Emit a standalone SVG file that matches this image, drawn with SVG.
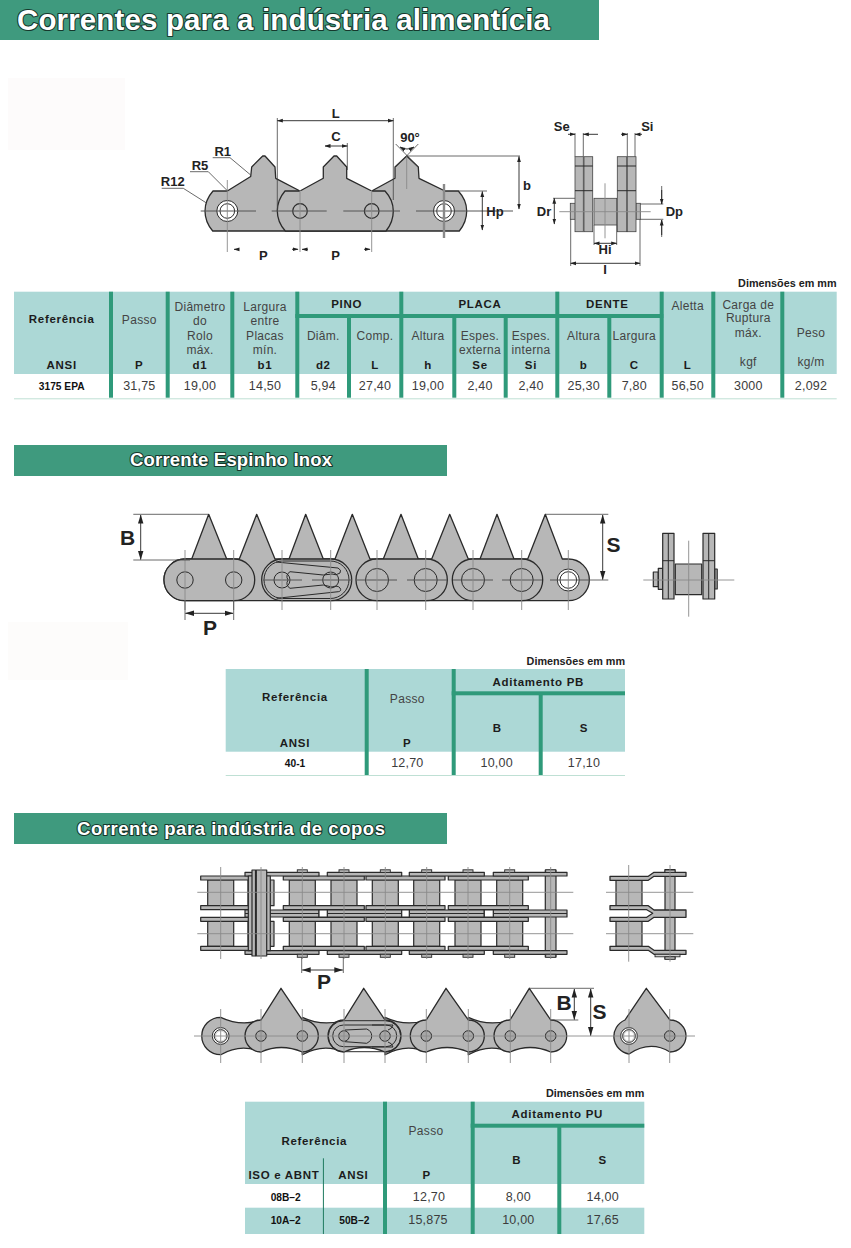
<svg xmlns="http://www.w3.org/2000/svg" xmlns:xlink="http://www.w3.org/1999/xlink" width="851" height="1248" viewBox="0 0 851 1248">
<style>
text{font-family:"Liberation Sans",Arial,sans-serif}
.ban{fill:#3f9a7e}
.bt{fill:#fff;font-weight:bold;stroke:#16382c;stroke-width:2.2;paint-order:stroke;stroke-linejoin:round}
.hd{fill:#acd8d6}
.bar{fill:#2f9a7a}
.rl{fill:#bfe0d4}
.r{font-size:12px;letter-spacing:.3px;fill:#444;text-anchor:middle}
.v{font-size:12.5px;letter-spacing:.2px;fill:#3c3c3c;text-anchor:middle}
.b{font-size:11.5px;letter-spacing:.7px;font-weight:bold;fill:#1c1c1c;text-anchor:middle}
.c{font-size:10.2px;font-weight:bold;fill:#111;text-anchor:middle}
.d{font-size:10.8px;font-weight:bold;fill:#222;text-anchor:end}
.l{font-size:13px;font-weight:bold;fill:#222;text-anchor:middle}
.L{font-size:21px;font-weight:bold;fill:#222;text-anchor:middle}
.p{fill:#b7b7b7;stroke:#2a2a2a;stroke-width:1.2;stroke-linejoin:round}
.p1{fill:#b7b7b7;stroke:#444;stroke-width:.8}
.p2{fill:#b7b7b7;stroke:#2a2a2a;stroke-width:.9}
.t{fill:#b7b7b7;stroke:#2a2a2a;stroke-width:1.3;stroke-linejoin:round}
.nf{fill:none;stroke:#2a2a2a;stroke-width:1}
.w{fill:#fff;stroke:#2a2a2a;stroke-width:1}
.cl{fill:none;stroke:#8a8a8a;stroke-width:.9}
.cd{fill:none;stroke:#555;stroke-width:1}
.dm{fill:none;stroke:#444;stroke-width:.8}
.ar{fill:none;stroke:#222;stroke-width:.9;marker-start:url(#a);marker-end:url(#a)}
.ae{fill:none;stroke:#222;stroke-width:.9;marker-end:url(#a)}
.ar2{fill:none;stroke:#222;stroke-width:.9;marker-start:url(#a2);marker-end:url(#a2)}
.hole{fill:#a8a8a8;stroke:#2a2a2a;stroke-width:1}
</style>
<defs>
<marker id="a" markerUnits="userSpaceOnUse" markerWidth="6" markerHeight="5" refX="5.5" refY="2.5" orient="auto-start-reverse"><path d="M0 .6L6 2.5L0 4.4z" fill="#222"/></marker>
<marker id="a2" markerUnits="userSpaceOnUse" markerWidth="9" markerHeight="6" refX="8.5" refY="3" orient="auto-start-reverse"><path d="M0 .3L9 3L0 5.7z" fill="#222"/></marker>
<g id="ir"><rect class="p" x="200.7" y="0" width="52.6" height="4"/><rect class="p" x="283.3" y="0" width="81" height="4"/><rect class="p" x="366" y="0" width="79" height="4"/><rect class="p" x="448.3" y="0" width="80" height="4"/></g>
<g id="rol"><rect class="p" x="-13" y="880" width="26" height="25.7"/><rect class="p" x="-13" y="921.3" width="26" height="25"/></g>
<g id="pl"><path class="cl" d="M0 867V959"/></g>
<g id="riv"><rect class="p2" x="-5" y="869.8" width="10" height="2.6"/><rect class="p2" x="-5" y="954.3" width="10" height="3"/></g>
<g id="sp"><circle class="hole" r="5.3"/></g>
</defs>
<rect width="851" height="1248" fill="#fff"/>

<g id="banner-main"><rect class="ban" x="0" y="0" width="599" height="40"/><text class="bt" x="17" y="30" font-size="29.5" textLength="533" lengthAdjust="spacing">Correntes para a indústria alimentícia</text></g>
<rect x="8" y="78" width="117" height="72" fill="#fdfbfb"/>
<rect x="8" y="622" width="120" height="58" fill="#fdfcfb"/>

<g id="chain-a-front">
<path class="t" d="M213 191H227.3L250.7 176.5L251.7 167L262.7 156H265L275 167L275.7 178.3L300 191L323.3 178.3V167L334 156H336.7L346.7 167V178.3L371.7 191L395 178.3V167L406.7 156L418.3 167L419 178.3L445 191H458.3Q466.7 200 466.7 211Q466.7 222 459.3 231H212.7Q205 222 205 211Q205 200 213 191Z"/>
<path class="t" d="M300 191H285Q277.3 200 277.3 211Q277.3 222 285.3 231H386Q393.3 222 393.3 211Q393.3 200 385 191H371.7"/>
<circle class="w" cx="227.3" cy="211" r="10.5"/><circle class="w" cx="227.3" cy="211" r="7.3"/>
<circle class="w" cx="444" cy="211" r="10.5"/><circle class="w" cx="444" cy="211" r="7.3"/>
<circle class="p" cx="300" cy="211" r="7.3"/><circle class="p" cx="371.7" cy="211" r="7.3"/>
<path class="cd" d="M200.7 211H256M271.7 211H326.7M343.3 211H400M416 211H513"/>
<path class="cl" d="M227.3 180V252M300 190V252M371.7 190V252M406.7 156V189"/>
<path fill="none" stroke="#8a8a8a" stroke-width="2.4" d="M444 184V238"/>
</g>
<g id="chain-a-dims">
<path class="dm" d="M277.3 118V211M393.3 118V200M347.3 143V170M406.7 156H520M458 191H487M395.7 144L418.3 167M418.3 144L395.7 167"/>
<path class="ar" d="M277.3 120.7H393.3"/>
<path class="ar" d="M325 146H347.3"/>
<path class="ar" d="M519 156.5V209"/>
<path class="ar" d="M482.3 191.5V230"/>
<path class="ar" d="M400 147Q407 151 414 147"/>
<path class="dm" d="M212.7 157.7H230L250.7 175M190 171.7H208.3L227.3 190.7M161.7 188.3H183.3L206 202.7"/>
<path class="ae" d="M238 249.3H234"/><path class="ae" d="M292 249.3H298"/><path class="ae" d="M308 249.3H302"/><path class="ae" d="M364 249.3H370"/>
<text class="l" x="335.7" y="117.5">L</text><text class="l" x="336" y="141">C</text><text class="l" x="410" y="141.7">90°</text>
<text class="l" x="222.7" y="156">R1</text><text class="l" x="200" y="170">R5</text><text class="l" x="172.7" y="186">R12</text>
<text class="l" x="263.3" y="260">P</text><text class="l" x="335.7" y="260">P</text><text class="l" x="527" y="190">b</text><text class="l" x="495" y="216">Hp</text>
</g>
<g id="chain-a-side">
<rect class="p1" x="570.3" y="203.3" width="5" height="16"/><rect class="p1" x="636" y="203.3" width="4.3" height="16"/>
<rect class="p1" x="594" y="198.3" width="22.7" height="26.7"/>
<rect class="p1" x="575" y="156.7" width="8.3" height="75"/><rect class="p1" x="584" y="156.7" width="8.7" height="75"/>
<rect class="p1" x="617.3" y="156.7" width="9.4" height="75"/><rect class="p1" x="627.3" y="156.7" width="8.7" height="75"/>
<path class="nf" d="M575 166H592.7M575 190.7H592.7M617.3 166H636M617.3 190.7H636"/>
<path class="cl" d="M605 183.3V238.3M559.3 211.7H650.7"/>
<path class="dm" d="M575 133V156.7M583.3 133V156.7M627.3 133V156.7M635 133V156.7M553 198.3H575M640 204H663.3M640 219.3H663.3M594 225V245M616.7 225V245M570.7 219V266M640 219V266M661.7 186V204M661.7 220V237"/>
<path class="ae" d="M568 134.3H575"/><path class="ae" d="M598 134.3H583.3"/><path class="ae" d="M621 134.3H627.3"/><path class="ae" d="M642 134.3H635"/>
<path class="ae" d="M661.7 190V204"/><path class="ae" d="M661.7 235V220"/>
<path class="ar" d="M554.3 198.3V224"/><path class="ar" d="M594 243.3H616.7"/><path class="ar" d="M570.7 263.3H640"/>
<text class="l" x="561.7" y="131">Se</text><text class="l" x="647.3" y="131">Si</text><text class="l" x="544" y="216">Dr</text><text class="l" x="674.3" y="216">Dp</text><text class="l" x="605" y="254.3">Hi</text><text class="l" x="605" y="274.3">I</text>
</g>

<g id="table-a">
<text class="d" x="836.5" y="286.7">Dimensões em mm</text>
<rect class="hd" x="14" y="291.7" width="822.7" height="82.3"/>
<rect class="rl" x="14" y="398.3" width="822.7" height="1"/>
<g class="bar"><rect x="109" y="291.7" width="4" height="106"/><rect x="165.7" y="291.7" width="4" height="106"/><rect x="230.3" y="291.7" width="4" height="106"/><rect x="295.3" y="291.7" width="4" height="106"/><rect x="347" y="315.7" width="4" height="82"/><rect x="399.3" y="291.7" width="4" height="106"/><rect x="452.3" y="315.7" width="4" height="82"/><rect x="503.7" y="315.7" width="4" height="82"/><rect x="555.3" y="291.7" width="4" height="106"/><rect x="607.3" y="315.7" width="4" height="82"/><rect x="659.7" y="291.7" width="4" height="106"/><rect x="711.3" y="291.7" width="4" height="106"/><rect x="780.3" y="291.7" width="4" height="106"/><rect x="295.3" y="314" width="368" height="4"/></g>
<text class="b" x="61.7" y="322.7">Referência</text><text class="b" x="61.7" y="369">ANSI</text>
<text class="r" x="139.3" y="324">Passo</text><text class="b" x="139.3" y="369">P</text>
<text class="r" x="200" y="310.7">Diâmetro</text><text class="r" x="200" y="325">do</text><text class="r" x="200" y="340">Rolo</text><text class="r" x="200" y="354">máx.</text><text class="b" x="200" y="369">d1</text>
<text class="r" x="265" y="310.7">Largura</text><text class="r" x="265" y="325">entre</text><text class="r" x="265" y="340">Placas</text><text class="r" x="265" y="354">mín.</text><text class="b" x="265" y="369">b1</text>
<text class="b" x="346.7" y="307.7">PINO</text><text class="b" x="480" y="307.7">PLACA</text><text class="b" x="607.3" y="307.7">DENTE</text>
<text class="r" x="323.3" y="340">Diâm.</text><text class="b" x="323.3" y="369">d2</text>
<text class="r" x="375" y="340">Comp.</text><text class="b" x="375" y="369">L</text>
<text class="r" x="428" y="340">Altura</text><text class="b" x="428" y="369">h</text>
<text class="r" x="480" y="340">Espes.</text><text class="r" x="480" y="354">externa</text><text class="b" x="480" y="369">Se</text>
<text class="r" x="531" y="340">Espes.</text><text class="r" x="531" y="354">interna</text><text class="b" x="531" y="369">Si</text>
<text class="r" x="583.7" y="340">Altura</text><text class="b" x="583.7" y="369">b</text>
<text class="r" x="634.3" y="340">Largura</text><text class="b" x="634.3" y="369">C</text>
<text class="r" x="687.7" y="310">Aletta</text><text class="b" x="687.7" y="369">L</text>
<text class="r" x="748.3" y="309">Carga de</text><text class="r" x="748.3" y="322.3">Ruptura</text><text class="r" x="748.3" y="336.7">máx.</text><text class="r" x="748.3" y="365.7">kgf</text>
<text class="r" x="811" y="337.3">Peso</text><text class="r" x="811" y="365.7">kg/m</text>
<text class="c" x="61.7" y="390">3175 EPA</text>
<text class="v" x="139.3" y="390">31,75</text><text class="v" x="200" y="390">19,00</text><text class="v" x="265" y="390">14,50</text><text class="v" x="323.3" y="390">5,94</text><text class="v" x="375" y="390">27,40</text><text class="v" x="428" y="390">19,00</text><text class="v" x="480" y="390">2,40</text><text class="v" x="531" y="390">2,40</text><text class="v" x="583.7" y="390">25,30</text><text class="v" x="634.3" y="390">7,80</text><text class="v" x="687.7" y="390">56,50</text><text class="v" x="748.3" y="390">3000</text><text class="v" x="811" y="390">2,092</text>
</g>

<g id="banner-espinho"><rect class="ban" x="14" y="445" width="433" height="31"/><text class="bt" x="130" y="466" font-size="18.5" textLength="202" lengthAdjust="spacing" stroke-width="1.6">Corrente Espinho Inox</text></g>

<g id="chain-b-front">
<path class="t" d="M185 559H191.7L208.7 514.3L226.7 559H239.3L256.7 514.3L275 559H289L305.7 514.3L323.3 559H335L352.3 514.3L370 559H383.3L401 514.3L418.3 559H431.7L449.7 514.3L468.3 559H480L497 514.3L514 559H527.7L545.3 514.3L562.3 559H568.3A21 20.8 0 0 1 568.3 600.7H185A21 20.8 0 0 1 185 559Z"/>
<rect class="t" x="164" y="559" width="90.7" height="41.7" rx="20.8"/>
<rect class="t" x="261.7" y="559" width="90" height="41.7" rx="20.8"/>
<rect class="t" x="356" y="559" width="91.3" height="41.7" rx="20.8"/>
<rect class="t" x="452.3" y="559" width="90.4" height="41.7" rx="20.8"/>
<rect class="nf" x="264" y="561" width="85" height="37.5" rx="18.7"/>
<path class="nf" d="M276 562L338 568Q342 570 340 573Q336 576 332 574L323.3 575L290 571.7Q285 575 288 580Q285 585 290 588.3L323.3 585L332 587Q338 585 340 588Q342 591 338.3 591.7L276.7 598.3"/>
<g class="nf"><circle cx="185" cy="580" r="8.2"/><circle cx="233.7" cy="580" r="8.2"/><circle cx="282" cy="580" r="8"/><circle cx="330.7" cy="580" r="8"/><circle cx="377" cy="580" r="11.5"/><circle cx="425.7" cy="580" r="11.5"/><circle cx="473" cy="580" r="11.5"/><circle cx="521.7" cy="580" r="11.5"/></g>
<circle class="w" cx="568.3" cy="580" r="11"/><circle class="w" cx="568.3" cy="580" r="8.3"/>
<path class="cd" d="M263 580H302M312 580H352M357 580H397M407 580H447M453 580H493M502 580H542M550 580H590"/>
<path class="cl" d="M185 550V610M233.7 550V610M282 550V610M330.7 550V610M377 550V610M425.7 550V610M473 550V610M521.7 550V610M568.3 550V610"/>
</g>
<g id="chain-b-dims">
<path class="dm" d="M133.3 514.3H208M133.3 560H190M545.3 514.3H608.3M590 580H608.3M185 600V620M233.7 600V620"/>
<path class="ar2" d="M140.7 515V559.5"/><path class="ar2" d="M602.7 515V579.5"/><path class="ar2" d="M185.5 613.3H233"/>
<text class="L" x="127.5" y="545">B</text><text class="L" x="613.5" y="552">S</text><text class="L" x="210" y="634.5">P</text>
</g>
<g id="chain-b-side">
<rect class="p" x="653.3" y="572" width="5" height="14.7"/><rect class="p" x="658.3" y="568.3" width="4.4" height="21"/><rect class="p" x="714.7" y="569" width="2.5" height="20"/>
<rect class="p" x="675.3" y="564" width="26.4" height="30.7"/>
<rect class="p" x="662.7" y="533.3" width="11.3" height="65.7"/><rect class="p" x="703" y="533.3" width="11.7" height="65.7"/>
<path class="nf" d="M668.3 533.3V599M708.7 533.3V599M662.7 560.7H674M703 560.7H714.7"/>
<path class="cl" d="M643.3 580H734.3M688.7 540.7V616.7"/>
</g>

<g id="table-b">
<text class="d" x="625" y="665">Dimensões em mm</text>
<rect class="hd" x="225.7" y="669" width="399.3" height="82.7"/>
<rect class="rl" x="225.7" y="775" width="399.3" height="1"/>
<g class="bar"><rect x="364.7" y="669" width="4" height="106"/><rect x="451.7" y="669" width="4" height="106"/><rect x="538.7" y="693.3" width="4" height="81.7"/><rect x="451.7" y="691.3" width="173.3" height="4"/></g>
<text class="b" x="295" y="700.7">Referência</text><text class="b" x="295" y="747.3">ANSI</text><text class="r" x="407.3" y="702.7">Passo</text><text class="b" x="407.3" y="747.3">P</text><text class="b" x="538.3" y="686">Aditamento  PB</text><text class="b" x="497.3" y="731.7">B</text><text class="b" x="584" y="731.7">S</text>
<text class="c" x="295" y="767.3">40-1</text><text class="v" x="407.3" y="767.3">12,70</text><text class="v" x="496.7" y="767.3">10,00</text><text class="v" x="584" y="767.3">17,10</text>
</g>

<g id="banner-copos"><rect class="ban" x="14" y="813" width="433" height="31"/><text class="bt" x="77" y="835" font-size="18.5" textLength="308" lengthAdjust="spacing" stroke-width="1.6">Corrente para indústria de copos</text></g>

<g id="chain-c-top">
<use xlink:href="#rol" href="#rol" x="220.7"/><use href="#rol" xlink:href="#rol" x="261"/><use href="#rol" xlink:href="#rol" x="302.3"/><use href="#rol" xlink:href="#rol" x="344"/><use href="#rol" xlink:href="#rol" x="385.3"/><use href="#rol" xlink:href="#rol" x="426.7"/><use href="#rol" xlink:href="#rol" x="468"/><use href="#rol" xlink:href="#rol" x="509.7"/>
<rect class="p" x="545.3" y="870" width="10.7" height="87"/>
<use href="#ir" xlink:href="#ir" y="876"/><use href="#ir" xlink:href="#ir" y="905.7"/><use href="#ir" xlink:href="#ir" y="917.3"/><use href="#ir" xlink:href="#ir" y="946.3"/>
<g class="p"><rect x="245" y="872.3" width="74" height="3.7"/><rect x="327.3" y="872.3" width="74.4" height="3.7"/><rect x="409.3" y="872.3" width="75" height="3.7"/><rect x="493.3" y="872.3" width="73.7" height="3.7"/>
<rect x="245" y="910" width="74" height="7"/><rect x="327.3" y="910" width="74.4" height="7"/><rect x="409.3" y="910" width="75" height="7"/><rect x="493.3" y="910" width="73.7" height="7"/>
<rect x="245" y="950.7" width="74" height="3.6"/><rect x="327.3" y="950.7" width="74.4" height="3.6"/><rect x="409.3" y="950.7" width="75" height="3.6"/><rect x="493.3" y="950.7" width="73.7" height="3.6"/></g>
<path class="nf" d="M245 913.5H319M327.3 913.5H401.7M409.3 913.5H484.3M493.3 913.5H567"/>
<rect class="p" x="319" y="910" width="8.3" height="7" style="fill:#fff"/><rect class="p" x="401.7" y="910" width="7.6" height="7" style="fill:#fff"/><rect class="p" x="484.3" y="910" width="9" height="7" style="fill:#fff"/>
<rect class="p" x="248.3" y="876" width="22" height="74.7"/>
<rect class="p" x="252" y="870" width="3.5" height="86"/>
<rect class="p" x="256.3" y="870" width="10.4" height="86"/>
<use href="#riv" xlink:href="#riv" x="302.3"/><use href="#riv" xlink:href="#riv" x="344"/><use href="#riv" xlink:href="#riv" x="385.3"/><use href="#riv" xlink:href="#riv" x="426.7"/><use href="#riv" xlink:href="#riv" x="468"/><use href="#riv" xlink:href="#riv" x="509.7"/><use href="#riv" xlink:href="#riv" x="550.7"/>
<path class="cl" d="M197.3 892.3H573.3M197.3 933.7H573.3"/>
<use href="#pl" xlink:href="#pl" x="220.7"/><use href="#pl" xlink:href="#pl" x="261"/><use href="#pl" xlink:href="#pl" x="302.3"/><use href="#pl" xlink:href="#pl" x="344"/><use href="#pl" xlink:href="#pl" x="385.3"/><use href="#pl" xlink:href="#pl" x="426.7"/><use href="#pl" xlink:href="#pl" x="468"/><use href="#pl" xlink:href="#pl" x="509.7"/><use href="#pl" xlink:href="#pl" x="550.7"/>
<path class="dm" d="M301.7 957V973M343.3 957V973"/><path class="ar2" d="M302.2 970H342.8"/>
<text class="L" x="324" y="989">P</text>
</g>
<g id="chain-c-top-side">
<rect class="p" x="616" y="880" width="26" height="25.7"/><rect class="p" x="616" y="921.3" width="26" height="25"/>
<rect class="p" x="665" y="869.5" width="10" height="89.5"/>
<path class="t" d="M610 876.3H648.3L654 872.3H686V876.3H654L648.3 880.3H610Z"/>
<path class="t" d="M610 905.7H648.3L654 910H686V917.3H654L648.3 921.3H610V917.3H646.7L652.7 913.3L646.7 909.7H610Z"/>
<path class="t" d="M610 946.3H648.3L654 950.3H686V954.3H654L648.3 950.3H610Z"/>
<rect class="p2" x="655" y="954.3" width="25" height="2.5" style="fill:#d0d0d0"/>
<rect class="p2" x="665" y="870" width="10" height="2.4"/><rect class="p2" x="665" y="956.8" width="10" height="2.5"/>
<path class="cl" d="M606 892.3H693.3M606 933.7H693.3M628.7 865V961.7M670 865V961.7"/>
</g>
<g id="chain-c-front">
<path class="t" d="M220.7 1017.3Q241 1027 261 1020V1052Q241 1043 220.7 1054.7A19 18.7 0 0 1 220.7 1017.3Z"/>
<path class="t" d="M302.3 1017.3Q323 1027 344 1020V1052Q323 1043 302.3 1054.7Z"/>
<path class="t" d="M385 1017.3Q406 1027 426.3 1020V1052Q406 1043 385 1054.7Z"/>
<path class="t" d="M468.3 1017.3Q489 1027 510 1020V1052Q489 1043 468.3 1054.7Z"/>
<path class="t" d="M261 1020L281 988.3L302.3 1020A16 16 0 0 1 302.3 1052Q281 1043 261 1052A16 16 0 0 1 261 1020Z"/>
<path class="t" d="M344 1020L363.7 988.3L385 1020A16 16 0 0 1 385 1052Q364 1043 344 1052A16 16 0 0 1 344 1020Z"/>
<path class="t" d="M426.3 1020L446 988.3L468.3 1020A16 16 0 0 1 468.3 1052Q447 1043 426.3 1052A16 16 0 0 1 426.3 1020Z"/>
<path class="t" d="M510 1020L529.3 988.3L550.7 1020A16 16 0 0 1 550.7 1052Q530 1043 510 1052A16 16 0 0 1 510 1020Z"/>
<rect class="nf" x="328.3" y="1020.7" width="72.4" height="31" rx="15.5"/>
<rect class="nf" x="332.7" y="1025" width="64" height="21.7" rx="10.8"/>
<path class="nf" d="M345 1030L366.7 1029Q371.7 1031 371.7 1036Q371.7 1041 366.7 1043.3L345 1041.7M372 1025L393 1025Q392 1029 388 1030M372 1047L393 1047Q392 1043 388 1042"/>
<use href="#sp" xlink:href="#sp" x="261" y="1036"/><use href="#sp" xlink:href="#sp" x="302.3" y="1036"/><use href="#sp" xlink:href="#sp" x="344" y="1036"/><use href="#sp" xlink:href="#sp" x="385" y="1036"/><use href="#sp" xlink:href="#sp" x="426.3" y="1036"/><use href="#sp" xlink:href="#sp" x="468.3" y="1036"/><use href="#sp" xlink:href="#sp" x="510.3" y="1036"/><use href="#sp" xlink:href="#sp" x="550.7" y="1036"/>
<circle class="w" cx="220.7" cy="1036" r="8.4"/><circle class="w" cx="220.7" cy="1036" r="6.4" style="fill:#ddd"/><circle cx="220.7" cy="1036" r="4.6" fill="#fff"/>
<path class="t" d="M625 1020L646.3 988.3L670 1020A16 16 0 0 1 670 1052Q650 1040 629 1054A19 18 0 0 1 625 1020Z"/>
<circle class="w" cx="629" cy="1036" r="8.4"/><circle class="w" cx="629" cy="1036" r="6.4" style="fill:#ddd"/><circle cx="629" cy="1036" r="4.6" fill="#fff"/>
<use href="#sp" xlink:href="#sp" x="669.7" y="1036"/>
<path class="cl" d="M194 1036H695M220.7 1009V1063M261 1009V1063M302.3 1009V1063M344 1009V1063M385 1009V1063M426.3 1009V1063M468.3 1009V1063M510.3 1009V1063M550.7 1009V1063M629 1009V1063M669.7 1009V1063"/>
<path class="dm" d="M529.3 988.3H594M550 1020H578.3"/>
<path class="ar2" d="M574.3 989V1019.5"/><path class="ar2" d="M590.7 989V1035.5"/>
<text class="L" x="564.2" y="1010">B</text><text class="L" x="599.5" y="1018.5">S</text>
</g>

<g id="table-c">
<text class="d" x="644.3" y="1097.3">Dimensões em mm</text>
<rect class="hd" x="245" y="1101.7" width="399.3" height="82.3"/>
<rect class="hd" x="245" y="1207.7" width="399.3" height="26.3"/>
<g class="bar"><rect x="383" y="1101.7" width="4" height="132.3"/><rect x="470.7" y="1101.7" width="4" height="132.3"/><rect x="557.3" y="1125.7" width="4" height="108.3"/><rect x="470.7" y="1123.7" width="173.6" height="4"/></g>
<rect x="322.9" y="1158.3" width="1" height="75.7" fill="#1f7a5f"/>
<text class="b" x="314.3" y="1145">Referência</text><text class="b" x="284" y="1179">ISO e ABNT</text><text class="b" x="353.3" y="1179">ANSI</text><text class="r" x="426" y="1135">Passo</text><text class="b" x="426.7" y="1179">P</text><text class="b" x="557.3" y="1118.3">Aditamento  PU</text><text class="b" x="516.7" y="1164.3">B</text><text class="b" x="602.7" y="1164.3">S</text>
<text class="c" x="285.7" y="1201">08B–2</text><text class="v" x="429" y="1201">12,70</text><text class="v" x="518.3" y="1201">8,00</text><text class="v" x="602.7" y="1201">14,00</text>
<text class="c" x="285.7" y="1224.3">10A–2</text><text class="c" x="354.3" y="1224.3">50B–2</text><text class="v" x="428" y="1224.3">15,875</text><text class="v" x="518.3" y="1224.3">10,00</text><text class="v" x="602.7" y="1224.3">17,65</text>
</g>
</svg>
